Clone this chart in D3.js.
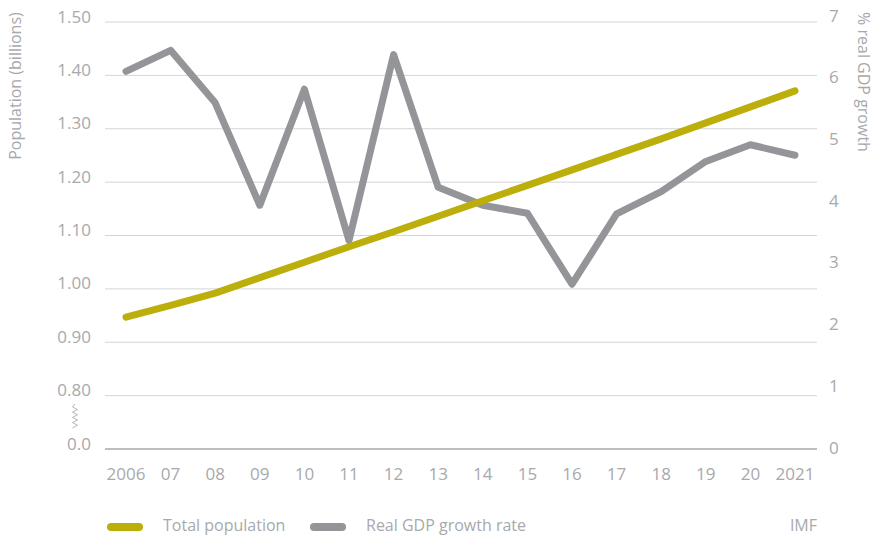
<!DOCTYPE html>
<html>
<head>
<meta charset="utf-8">
<script src="https://cdn.jsdelivr.net/npm/d3@7"></script>
<style>
  body { margin: 0; background: #fff; }
  text { font-family: 'Open Sans', Lato, sans-serif; fill: #a7a9ac; }
</style>
</head>
<body>
<div id="chart"></div>
<script>
const years = ['2006', '07', '08', '09', '10', '11', '12', '13', '14', '15', '16', '17', '18', '19', '20', '2021']
const population = [0.947, 0.969, 0.992, 1.021, 1.05, 1.079, 1.107, 1.136, 1.165, 1.194, 1.223, 1.252, 1.281, 1.311, 1.341, 1.371]
const gdpGrowth = [6.12, 6.46, 5.61, 3.95, 5.83, 3.38, 6.39, 4.24, 3.95, 3.82, 2.67, 3.81, 4.17, 4.66, 4.93, 4.76]
const leftTicks = [0.7, 0.8, 0.9, 1.0, 1.1, 1.2, 1.3, 1.4, 1.5]
const leftTickLabels = ['0.0', '0.80', '0.90', '1.00', '1.10', '1.20', '1.30', '1.40', '1.50']
const rightTicks = [0, 1, 2, 3, 4, 5, 6, 7]

const width = 879
const height = 538

const svg = d3
  .select('#chart')
  .append('svg')
  .attr('width', width)
  .attr('height', height)

const xPositionScale = d3.scalePoint().domain(years).range([126, 795])

// left axis has a break: 0.7 sits at the bottom and is labelled 0.0
const yLeft = d3.scaleLinear().domain([0.7, 1.5]).range([449, 22])
const yRight = d3.scaleLinear().domain([0, 7]).range([449, 17])

// gridlines
svg
  .selectAll('.grid')
  .data(leftTicks)
  .enter()
  .append('line')
  .attr('class', 'grid')
  .attr('x1', 105)
  .attr('x2', 817)
  .attr('y1', d => yLeft(d))
  .attr('y2', d => yLeft(d))
  .attr('stroke', d => (d === 0.7 ? '#bcbdc0' : '#d4d5d7'))
  .attr('stroke-width', d => (d === 0.7 ? 2 : 1))

// left tick labels
svg
  .selectAll('.left-label')
  .data(leftTicks)
  .enter()
  .append('text')
  .attr('class', 'left-label')
  .attr('x', 91)
  .attr('y', d => yLeft(d) - 4)
  .attr('text-anchor', 'end')
  .attr('dominant-baseline', 'middle')
  .attr('font-size', 17)
  .text((d, i) => leftTickLabels[i])

// right tick labels
svg
  .selectAll('.right-label')
  .data(rightTicks)
  .enter()
  .append('text')
  .attr('class', 'right-label')
  .attr('x', 829)
  .attr('y', d => yRight(d))
  .attr('dominant-baseline', 'middle')
  .attr('font-size', 17)
  .text(d => d)

// axis break zigzag
const zig = d3.line()
const zigPoints = [[75, 404]]
for (let i = 0; i <= 8; i++) {
  zigPoints.push([i % 2 === 0 ? 72.5 : 77.5, 407 + i * 2.6])
}
svg
  .append('path')
  .attr('d', zig(zigPoints))
  .attr('fill', 'none')
  .attr('stroke', '#b5b6b9')
  .attr('stroke-width', 1)

// axis titles
svg
  .append('text')
  .attr('transform', 'translate(17,86) rotate(-90)')
  .attr('text-anchor', 'middle')
  .attr('dominant-baseline', 'middle')
  .attr('font-size', 16)
  .text('Population (billions)')

svg
  .append('text')
  .attr('transform', 'translate(862,82) rotate(90)')
  .attr('text-anchor', 'middle')
  .attr('dominant-baseline', 'middle')
  .attr('font-size', 16)
  .text('% real GDP growth')

// x labels
svg
  .selectAll('.x-label')
  .data(years)
  .enter()
  .append('text')
  .attr('class', 'x-label')
  .attr('x', d => xPositionScale(d))
  .attr('y', 475)
  .attr('text-anchor', 'middle')
  .attr('dominant-baseline', 'middle')
  .attr('font-size', 17)
  .text(d => d)

// lines
const popLine = d3
  .line()
  .x((d, i) => xPositionScale(years[i]))
  .y(d => yLeft(d))

const gdpLine = d3
  .line()
  .x((d, i) => xPositionScale(years[i]))
  .y(d => yRight(d))

svg
  .append('path')
  .datum(gdpGrowth)
  .attr('d', gdpLine)
  .attr('fill', 'none')
  .attr('stroke', '#939598')
  .attr('stroke-width', 7)
  .attr('stroke-linecap', 'round')
  .attr('stroke-linejoin', 'round')

svg
  .append('path')
  .datum(population)
  .attr('d', popLine)
  .attr('fill', 'none')
  .attr('stroke', '#bcae0b')
  .attr('stroke-width', 7)
  .attr('stroke-linecap', 'round')
  .attr('stroke-linejoin', 'round')

// legend
const legend = [
  { label: 'Total population', color: '#bcae0b', x: 107 },
  { label: 'Real GDP growth rate', color: '#939598', x: 310 }
]

legend.forEach(d => {
  svg
    .append('line')
    .attr('x1', d.x + 4)
    .attr('x2', d.x + 32)
    .attr('y1', 527)
    .attr('y2', 527)
    .attr('stroke', d.color)
    .attr('stroke-width', 8)
    .attr('stroke-linecap', 'round')
  svg
    .append('text')
    .attr('x', d.x + 56)
    .attr('y', 527)
    .attr('dominant-baseline', 'middle')
    .attr('font-size', 16)
    .text(d.label)
})

svg
  .append('text')
  .attr('x', 817)
  .attr('y', 527)
  .attr('text-anchor', 'end')
  .attr('dominant-baseline', 'middle')
  .attr('font-size', 16)
  .text('IMF')
</script>
</body>
</html>
